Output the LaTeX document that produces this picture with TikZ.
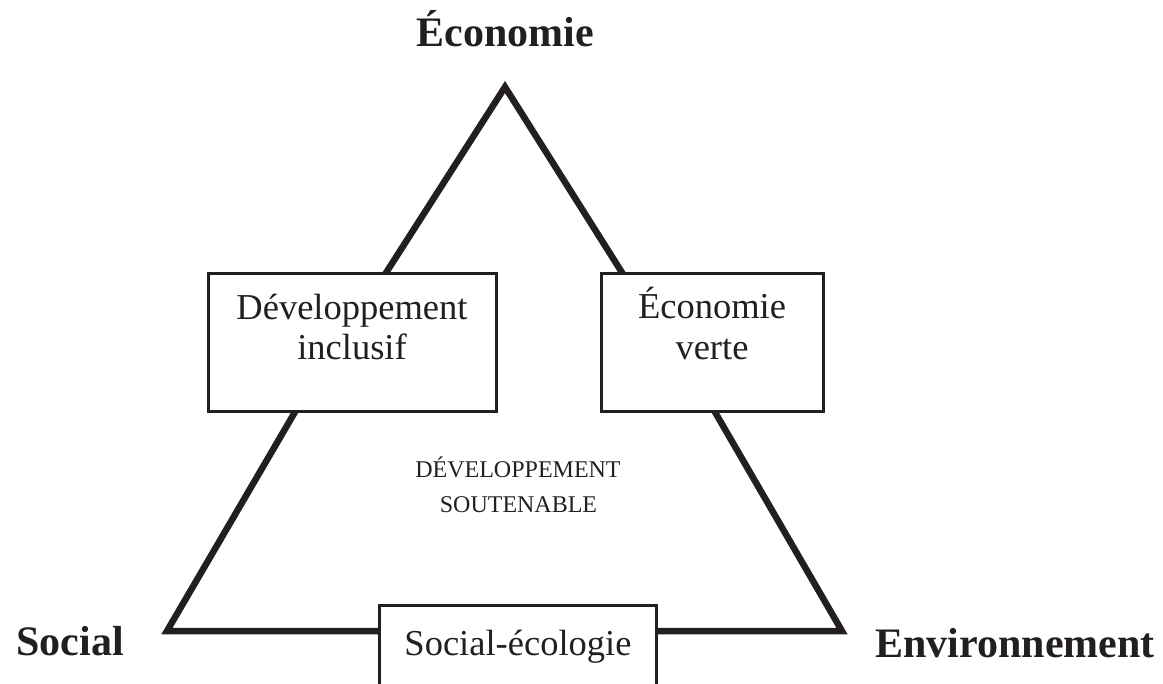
\documentclass[tikz,border=0pt]{standalone}
\usepackage{fontspec}
\setmainfont{Liberation Serif}
\definecolor{ink}{HTML}{231F20}
\tikzset{
  tri/.style={draw=ink, line width=6.5pt, line join=miter},
  box/.style={draw=ink, line width=3pt, fill=white, rectangle, inner sep=0pt},
  pole/.style={text=ink, inner sep=0pt, anchor=base, font=\fontsize{42}{48}\selectfont\bfseries},
  boxtxt/.style={text=ink, inner sep=0pt, anchor=base, font=\fontsize{36.5}{42}\selectfont},
  small/.style={text=ink, inner sep=0pt, anchor=base, font=\fontsize{24}{28}\selectfont},
}
\begin{document}
\begin{tikzpicture}[x=1pt,y=-1pt]
\useasboundingbox (0,0) rectangle (1163,684);
\coordinate (E) at (505,87);
\coordinate (S) at (167,631);
\coordinate (V) at (842,631);
\coordinate (A1) at (302,400);
\coordinate (A2) at (375,290);
\coordinate (B2) at (633,290);
\coordinate (B1) at (708,400);
\draw[tri] (S) -- (A1) -- (A2) -- (E) -- (B2) -- (B1) -- (V) -- cycle;
% boxes
\node[box, minimum width=288pt, minimum height=138pt] (di) at (352,343) {};
\node[box, minimum width=222pt, minimum height=138pt] (ev) at (712,343) {};
\node[box, minimum width=277pt, minimum height=100pt] (se) at (517.5,655) {};
% box texts
\node[boxtxt] (di1) at (352,320) {Développement};
\node[boxtxt] (di2) at (352,360) {inclusif};
\node[boxtxt] (ev1) at (712,319) {Économie};
\node[boxtxt] (ev2) at (712,360) {verte};
\node[boxtxt] (se1) at (518,655) {Social-écologie};
% poles
\node[pole] (pe) at (505,47) {Économie};
\node[pole] (ps) at (70,655) {Social};
\node[pole] (pv) at (1015,657) {Environnement};
% centre
\node[small] (c1) at (518,478) {DÉVELOPPEMENT};
\node[small] (c2) at (518.5,513) {SOUTENABLE};
\end{tikzpicture}
\end{document}
